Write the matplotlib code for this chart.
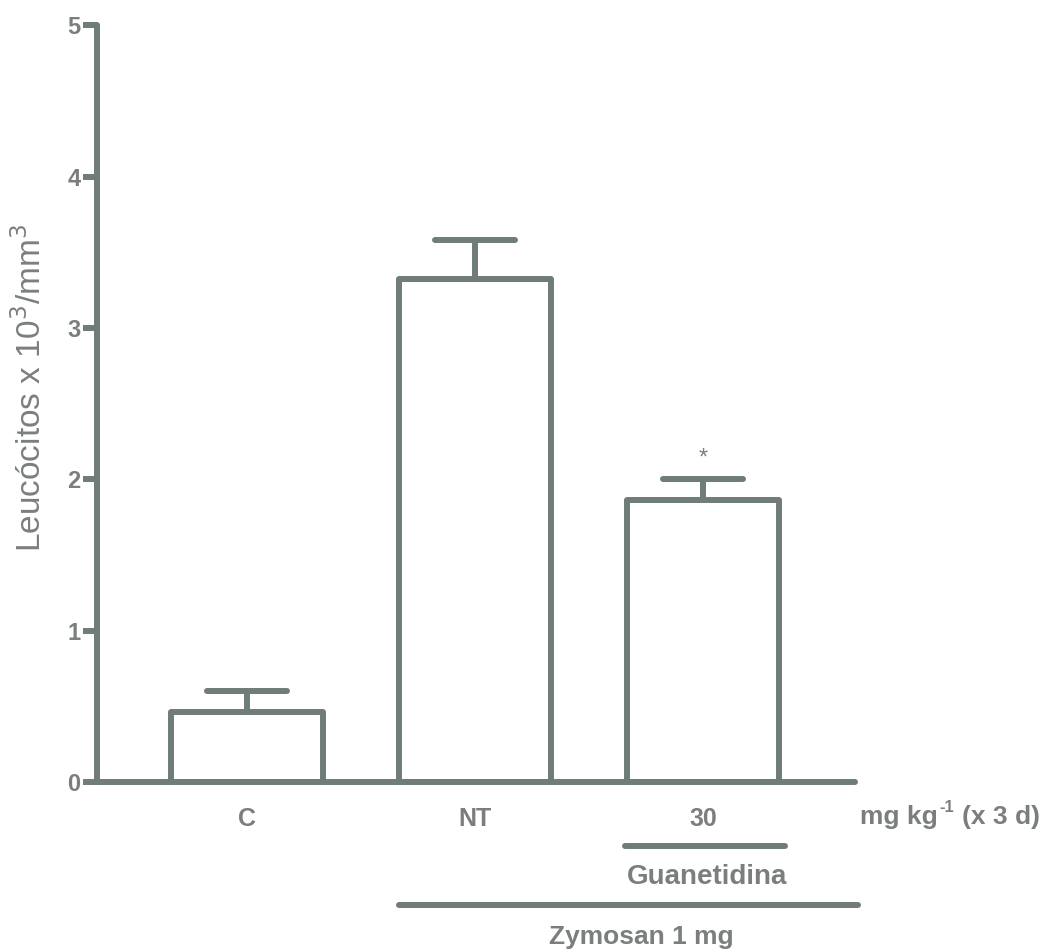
import matplotlib.pyplot as plt
import numpy as np
from matplotlib.transforms import offset_copy

plt.rcParams['font.family'] = ['Liberation Sans', 'DejaVu Sans']

# leukocyte counts per group (x 10^3/mm^3) and upper SEM
groups = ['C', 'NT', '30']
means = [0.46, 3.32, 1.86]
sem = [0.14, 0.26, 0.14]
yticks = [0, 1, 2, 3, 4, 5]

grey = '#6f7c79'
txt = '#7a7f7e'
lw = 4.3

fig = plt.figure(figsize=(10.49, 9.52), dpi=100)
ax = fig.add_axes([0.0925, 0.1786, 0.7225, 0.795])

x = np.arange(len(groups))
bars = ax.bar(x, means, width=0.667, color='white', edgecolor=grey,
              linewidth=lw, zorder=2)
for b in bars:
    b.set_joinstyle('round')

# upper error bars only
for xi, m, e in zip(x, means, sem):
    ax.plot([xi, xi], [m, m + e], color=grey, lw=lw, zorder=1,
            solid_capstyle='butt')
    ax.plot([xi - 0.175, xi + 0.175], [m + e, m + e], color=grey, lw=lw,
            solid_capstyle='round', zorder=1)

ax.text(2, means[2] + sem[2] + 0.14, '*', ha='center', va='center',
        fontsize=17, color=txt)

ax.set_xlim(-0.658, 2.667)
ax.set_ylim(0, 5)
ax.set_yticks(yticks)
ax.set_xticks([])
for s in ['top', 'right']:
    ax.spines[s].set_visible(False)
for s in ['left', 'bottom']:
    ax.spines[s].set_linewidth(lw)
    ax.spines[s].set_color(grey)
    ax.spines[s].set_capstyle('round')
ax.tick_params(axis='y', length=10, width=lw, color=grey, pad=2,
               labelsize=17, labelcolor=txt)
for t in ax.get_yticklabels():
    t.set_fontweight('bold')
for ln in ax.yaxis.get_ticklines():
    ln.set_solid_capstyle('round')

fig.text(31 / 1049, 0.5924, 'Leucócitos x 10$^3$/mm$^3$', rotation=90,
         ha='center', va='center', fontsize=24, color=txt)

# group labels under the axis
tr = ax.get_xaxis_transform()
for xi, g in zip(x, groups):
    ax.text(xi, -0.049, g, transform=tr, ha='center', va='center',
            fontsize=18, fontweight='bold', color=txt)

# dose unit, with a hyphen superscript laid out piece by piece
fig.canvas.draw()
r = fig.canvas.get_renderer()
t1 = ax.text(2.69, -0.055, 'mg kg', transform=tr, ha='left',
             va='baseline', fontsize=19, fontweight='bold', color=txt)
w1 = t1.get_window_extent(r).width * 72 / fig.dpi
t2 = ax.text(2.69, -0.055, '-1',
             transform=offset_copy(tr, fig, x=w1 + 1, y=8, units='points'),
             ha='left', va='baseline', fontsize=12, fontweight='bold',
             color=txt)
w2 = t2.get_window_extent(r).width * 72 / fig.dpi
ax.text(2.69, -0.055, '(x 3 d)',
        transform=offset_copy(tr, fig, x=w1 + w2 + 7, units='points'),
        ha='left', va='baseline', fontsize=19, fontweight='bold', color=txt)

# treatment bars
ax.plot([1.658, 2.36], [-0.0845, -0.0845], transform=tr, color=grey, lw=lw,
        solid_capstyle='round', clip_on=False)
ax.text(2.02, -0.1255, 'Guanetidina', transform=tr, ha='center',
        va='center', fontsize=20, fontweight='bold', color=txt)
ax.plot([0.667, 2.68], [-0.1625, -0.1625], transform=tr, color=grey, lw=lw,
        solid_capstyle='round', clip_on=False)
ax.text(1.728, -0.205, 'Zymosan 1 mg', transform=tr, ha='center',
        va='center', fontsize=19, fontweight='bold', color=txt)

fig.savefig('out.png', dpi=100)
